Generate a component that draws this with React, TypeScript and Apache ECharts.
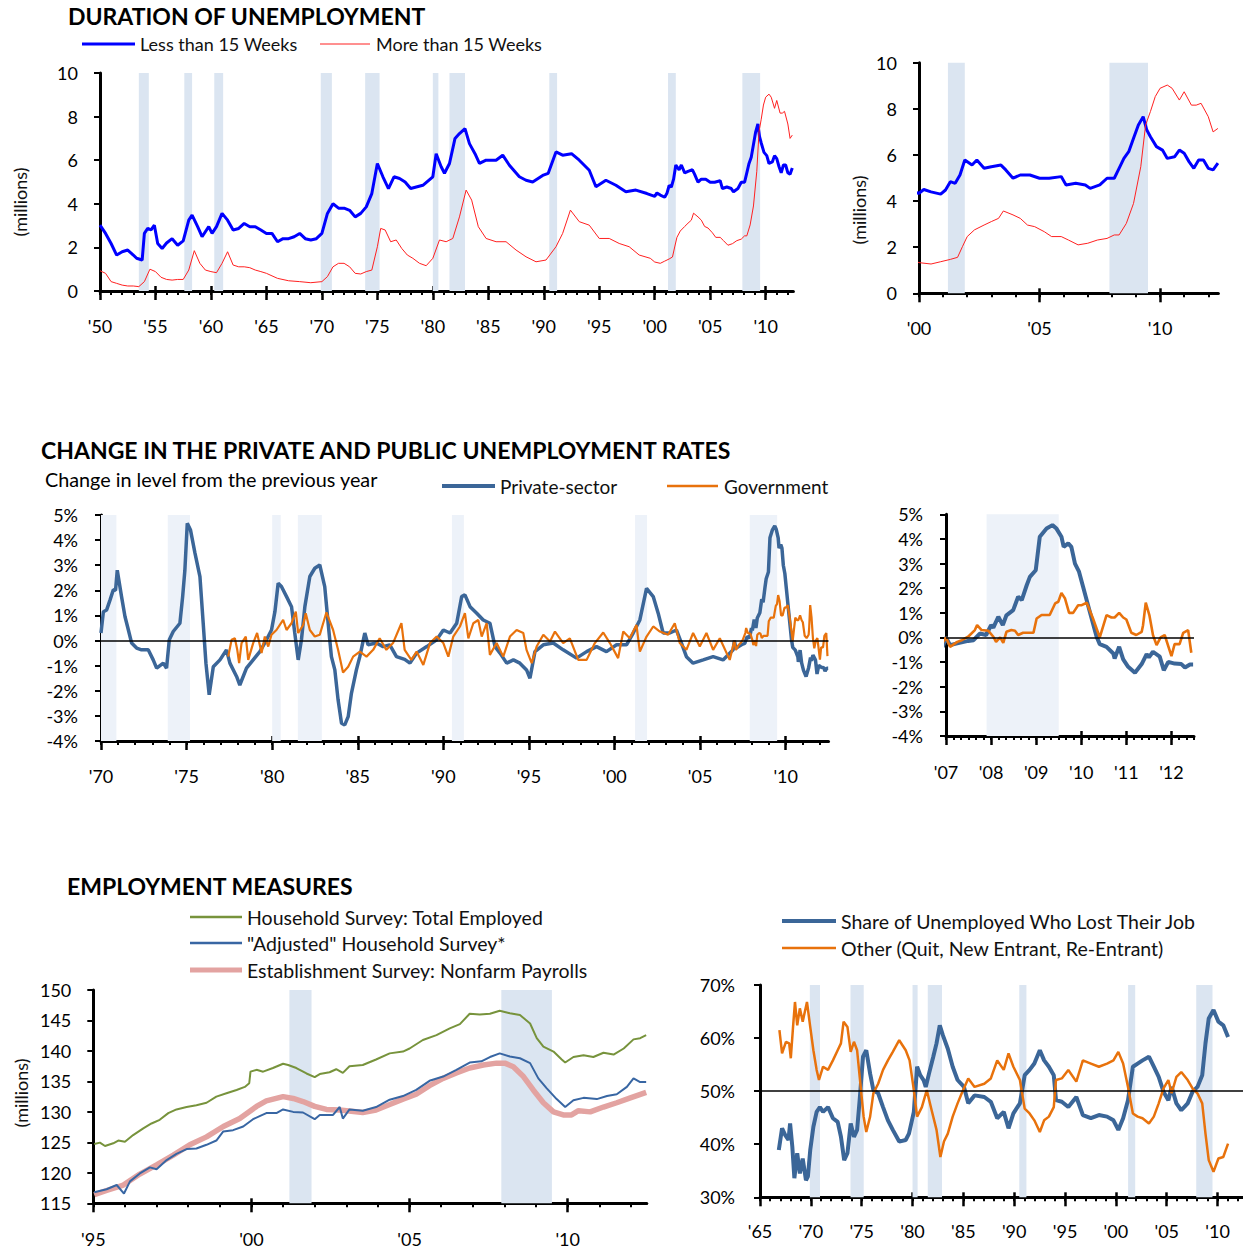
import React, { useEffect, useRef } from 'react';
import * as echarts from 'echarts';

const FONT = 'Lato, "Open Sans", sans-serif';

// NBER recessions (start, end) in decimal years
const recessions: [number, number][] = [
  [1953.5, 1954.4], [1957.6, 1958.3], [1960.3, 1961.1], [1969.9, 1970.9], [1973.9, 1975.2],
  [1980.0, 1980.5], [1981.5, 1982.9], [1990.5, 1991.2], [2001.2, 2001.9], [2007.9, 2009.5],
];

// ---- Duration of unemployment (millions) ----
const lessThan15Weeks: [number, number][] = [
  [1950.0, 3.02], [1950.5, 2.64], [1951.0, 2.18], [1951.5, 1.65], [1952.0, 1.8], [1952.5, 1.88], [1953.0, 1.65],
  [1953.3, 1.5], [1953.8, 1.42], [1954.0, 2.64], [1954.3, 2.87], [1954.6, 2.8], [1954.9, 3.02], [1955.2, 2.18],
  [1955.6, 1.95], [1956.0, 2.2], [1956.5, 2.4], [1957.0, 2.1], [1957.5, 2.3], [1958.0, 3.25], [1958.3, 3.48],
  [1958.8, 2.95], [1959.2, 2.49], [1959.8, 2.95], [1960.1, 2.64], [1960.5, 2.95], [1961.0, 3.56], [1961.5, 3.25],
  [1962.0, 2.8], [1962.5, 2.87], [1963.0, 3.1], [1963.5, 2.95], [1964.0, 2.95], [1964.5, 2.8], [1965.0, 2.64],
  [1965.5, 2.64], [1966.0, 2.26], [1966.5, 2.4], [1967.0, 2.4], [1967.5, 2.49], [1968.0, 2.64], [1968.5, 2.4],
  [1969.0, 2.34], [1969.5, 2.4], [1970.0, 2.64], [1970.5, 3.56], [1971.0, 4.0], [1971.5, 3.8], [1972.0, 3.8],
  [1972.5, 3.7], [1973.0, 3.4], [1973.5, 3.56], [1974.0, 3.86], [1974.5, 4.47], [1975.0, 5.85], [1975.5, 5.24],
  [1976.0, 4.7], [1976.5, 5.24], [1977.0, 5.16], [1977.5, 5.0], [1978.0, 4.7], [1979.1, 4.85], [1980.0, 5.24],
  [1980.3, 6.3], [1980.75, 5.7], [1981.05, 5.4], [1981.5, 5.85], [1982.0, 7.0], [1982.4, 7.22], [1982.9, 7.45],
  [1983.3, 6.76], [1983.8, 6.3], [1984.2, 5.85], [1984.8, 6.0], [1985.7, 6.0], [1986.3, 6.23], [1986.9, 5.77],
  [1987.8, 5.24], [1988.4, 5.08], [1989.0, 5.0], [1989.9, 5.3], [1990.4, 5.4], [1991.1, 6.38], [1991.7, 6.23],
  [1992.5, 6.3], [1993.2, 6.0], [1994.1, 5.54], [1994.7, 4.78], [1995.6, 5.08], [1996.5, 4.85], [1997.4, 4.55],
  [1998.3, 4.63], [1999.3, 4.47],
  [2000.0, 4.34], [2000.2, 4.5], [2000.5, 4.4], [2000.9, 4.3], [2001.1, 4.48], [2001.3, 4.84], [2001.5, 4.77],
  [2001.7, 5.13], [2001.9, 5.78], [2002.2, 5.56], [2002.4, 5.78], [2002.7, 5.42], [2003.0, 5.49], [2003.4, 5.56],
  [2003.6, 5.35], [2003.9, 4.99], [2004.2, 5.13], [2004.6, 5.13], [2005.0, 4.99], [2005.4, 4.99], [2005.9, 5.06],
  [2006.1, 4.7], [2006.5, 4.77], [2006.9, 4.7], [2007.1, 4.55], [2007.5, 4.7], [2007.8, 4.99], [2008.1, 4.99],
  [2008.3, 5.42], [2008.5, 5.85], [2008.7, 6.14], [2008.9, 6.72], [2009.1, 7.3], [2009.3, 7.66], [2009.45, 7.08],
  [2009.6, 6.79], [2009.85, 6.36], [2010.1, 6.21], [2010.3, 5.85], [2010.6, 5.92], [2010.8, 6.21], [2011.0, 6.07],
  [2011.2, 5.71], [2011.4, 5.42], [2011.6, 5.78], [2011.8, 5.78], [2012.0, 5.42], [2012.2, 5.35], [2012.4, 5.64],
];

const moreThan15Weeks: [number, number][] = [
  [1950.0, 0.93], [1950.5, 0.81], [1951.0, 0.43], [1951.5, 0.35], [1952.0, 0.27], [1952.5, 0.23], [1953.0, 0.23],
  [1953.5, 0.2], [1954.0, 0.43], [1954.5, 1.0], [1955.0, 0.89], [1955.5, 0.63], [1956.0, 0.53], [1956.5, 0.5],
  [1957.0, 0.53], [1957.5, 0.53], [1958.0, 0.96], [1958.5, 1.85], [1959.0, 1.27], [1959.5, 0.96], [1960.0, 0.89],
  [1960.5, 0.84], [1961.0, 1.27], [1961.5, 1.8], [1962.0, 1.19], [1962.5, 1.11], [1963.0, 1.11], [1963.5, 1.07],
  [1964.0, 0.96], [1964.5, 0.89], [1965.0, 0.81], [1966.0, 0.58], [1967.0, 0.47], [1968.0, 0.43], [1969.0, 0.38],
  [1970.0, 0.43], [1970.5, 0.66], [1971.0, 1.11], [1971.5, 1.27], [1972.0, 1.27], [1972.5, 1.11], [1973.0, 0.81],
  [1973.5, 0.78], [1974.0, 0.89], [1974.5, 0.96], [1975.0, 2.03], [1975.3, 2.87], [1975.7, 2.8], [1976.2, 2.26],
  [1976.7, 2.34], [1977.2, 1.95], [1977.7, 1.65], [1978.2, 1.5], [1978.8, 1.27], [1979.4, 1.16], [1980.0, 1.5],
  [1980.6, 2.34], [1981.2, 2.26], [1981.8, 2.41], [1982.4, 3.4], [1983.0, 4.63], [1983.5, 4.17], [1984.1, 2.95],
  [1984.8, 2.41], [1985.7, 2.26], [1986.6, 2.26], [1987.5, 1.88], [1988.4, 1.57], [1989.3, 1.34], [1990.2, 1.42],
  [1991.1, 2.03], [1991.7, 2.64], [1992.4, 3.71], [1993.2, 3.18], [1994.1, 3.02], [1995.0, 2.41], [1995.9, 2.41],
  [1996.8, 2.18], [1997.7, 2.03], [1998.6, 1.65], [1999.6, 1.5],
  [2000.0, 1.33], [2000.5, 1.27], [2000.9, 1.37], [2001.3, 1.47], [2001.6, 1.56], [2001.8, 2.02], [2002.0, 2.46],
  [2002.3, 2.75], [2002.7, 2.96], [2003.0, 3.11], [2003.3, 3.25], [2003.5, 3.57], [2003.9, 3.4], [2004.2, 3.25],
  [2004.5, 2.96], [2004.8, 2.89], [2005.2, 2.67], [2005.5, 2.46], [2005.9, 2.46], [2006.2, 2.31], [2006.6, 2.1],
  [2007.0, 2.17], [2007.4, 2.31], [2007.8, 2.38], [2008.1, 2.53], [2008.3, 2.53], [2008.6, 3.03], [2008.9, 3.9],
  [2009.2, 5.49], [2009.4, 7.3], [2009.6, 7.88], [2009.8, 8.53], [2010.0, 8.89], [2010.3, 9.03], [2010.5, 8.89],
  [2010.8, 8.38], [2011.0, 8.74], [2011.3, 8.16], [2011.5, 8.16], [2011.7, 8.24], [2012.0, 7.66], [2012.2, 7.0],
  [2012.4, 7.15],
];

// ---- Change in unemployment rates (percentage points, y/y) ----
const privateSector: [number, number][] = [
  [1970.0, 0.3], [1970.14, 1.15], [1970.33, 1.22], [1970.53, 1.62], [1970.72, 2.02], [1970.85, 2.0], [1970.95, 2.8],
  [1971.2, 1.75], [1971.4, 0.96], [1971.6, 0.42], [1971.79, -0.1], [1972.08, -0.3], [1972.37, -0.37], [1972.76, -0.37],
  [1973.05, -0.77], [1973.25, -1.1], [1973.64, -0.9], [1973.83, -1.1], [1973.99, 0.03], [1974.22, 0.36], [1974.61, 0.69],
  [1974.77, 1.75], [1974.9, 2.8], [1975.04, 4.67], [1975.23, 4.4], [1975.49, 3.48], [1975.78, 2.55], [1975.97, 0.69],
  [1976.13, -0.9], [1976.32, -2.16], [1976.56, -1.04], [1976.95, -0.77], [1977.33, -0.37], [1977.53, -0.9],
  [1977.92, -1.43], [1978.11, -1.77], [1978.5, -1.1], [1978.89, -0.77], [1979.28, -0.44], [1979.67, 0.03],
  [1979.96, 0.42], [1980.16, 1.15], [1980.35, 2.28], [1980.54, 2.15], [1980.84, 1.75], [1981.13, 1.35], [1981.32, 0.3],
  [1981.52, -0.77], [1981.71, 0.03], [1981.91, 1.35], [1982.2, 2.55], [1982.49, 2.88], [1982.78, 3.01], [1983.07, 2.15],
  [1983.27, 0.69], [1983.46, -0.64], [1983.66, -1.17], [1983.85, -2.36], [1984.05, -3.29], [1984.24, -3.36],
  [1984.44, -3.03], [1984.63, -2.1], [1984.92, -1.17], [1985.12, -0.64], [1985.41, 0.3], [1985.6, -0.17],
  [1986.09, -0.1], [1986.48, -0.24], [1986.87, -0.17], [1987.26, -0.64], [1987.74, -0.75], [1988.05, -0.9],
  [1988.44, -0.5], [1989.03, -0.24], [1989.61, 0.03], [1990.0, 0.42], [1990.39, 0.3], [1990.78, 0.69], [1991.07, 1.75],
  [1991.26, 1.82], [1991.56, 1.35], [1991.95, 1.09], [1992.33, 0.82], [1992.72, 0.69], [1993.02, -0.24], [1993.31, -0.5],
  [1993.7, -0.9], [1994.09, -0.77], [1994.47, -0.9], [1994.86, -1.17], [1995.06, -1.5], [1995.35, -0.44],
  [1995.84, -0.17], [1996.42, -0.1], [1997.0, -0.37], [1997.78, -0.7], [1998.37, -0.44], [1998.95, -0.24],
  [1999.53, -0.44], [2000.12, -0.17], [2000.7, -0.17], [2001.09, 0.3], [2001.48, 0.82], [2001.87, 2.08],
  [2002.26, 1.75], [2002.55, 1.09], [2002.84, 0.3], [2003.23, 0.3], [2003.62, 0.42], [2003.91, -0.1], [2004.2, -0.64],
  [2004.59, -0.9], [2005.18, -0.77], [2005.76, -0.64], [2006.34, -0.77], [2006.93, -0.37],
  [2007.0, 0.0], [2007.09, -0.31], [2007.25, -0.24], [2007.49, -0.14], [2007.61, -0.11], [2007.75, 0.16], [2007.89, 0.1],
  [2008.0, 0.5], [2008.05, 0.4], [2008.16, 0.84], [2008.26, 0.5], [2008.34, 0.9], [2008.49, 1.11], [2008.6, 1.65],
  [2008.68, 1.52], [2008.79, 2.12], [2008.86, 2.46], [2008.99, 2.73], [2009.08, 4.09], [2009.23, 4.42], [2009.36, 4.56],
  [2009.45, 4.42], [2009.56, 4.09], [2009.61, 3.68], [2009.71, 3.82], [2009.78, 3.68], [2009.86, 3.0], [2009.95, 2.67],
  [2010.04, 2.06], [2010.15, 1.31], [2010.26, 0.57], [2010.34, 0.03], [2010.41, -0.27], [2010.56, -0.38],
  [2010.71, -0.65], [2010.74, -0.85], [2010.84, -0.38], [2010.93, -0.89], [2011.04, -1.19], [2011.19, -1.43],
  [2011.34, -1.08], [2011.45, -0.68], [2011.5, -0.81], [2011.59, -0.58], [2011.74, -0.78], [2011.83, -1.33],
  [2011.93, -0.99], [2012.07, -1.06], [2012.22, -1.08], [2012.3, -1.22], [2012.41, -1.1], [2012.48, -1.1],
];

const government: [number, number][] = [
  [1977.43, -0.64], [1977.63, 0.03], [1977.82, 0.09], [1977.96, -0.37], [1978.07, -0.9], [1978.21, -0.1],
  [1978.46, 0.16], [1978.6, -0.77], [1978.89, -0.1], [1979.12, 0.3], [1979.38, -0.5], [1979.57, 0.16],
  [1979.77, -0.24], [1979.96, 0.23], [1980.25, 0.42], [1980.64, 0.82], [1980.84, 0.42], [1981.13, 0.69],
  [1981.38, 1.15], [1981.52, 0.3], [1981.81, 0.62], [1981.96, 1.09], [1982.2, 0.42], [1982.49, 0.16], [1982.78, 0.23],
  [1982.98, 0.69], [1983.17, 1.12], [1983.37, 0.76], [1983.56, 0.42], [1983.85, -0.37], [1984.14, -1.27],
  [1984.44, -1.04], [1984.73, -0.64], [1985.12, -0.44], [1985.51, -0.64], [1985.9, -0.37], [1986.28, 0.09],
  [1986.67, -0.37], [1987.06, -0.1], [1987.55, 0.69], [1987.74, -0.37], [1988.13, -0.77], [1988.44, -0.44],
  [1988.83, -0.97], [1989.22, -0.1], [1989.61, 0.16], [1990.0, -0.1], [1990.29, -0.64], [1990.58, 0.16],
  [1990.97, 0.56], [1991.26, 1.09], [1991.46, 0.09], [1991.75, 0.69], [1992.04, 0.82], [1992.24, 0.16],
  [1992.53, 0.69], [1992.72, -0.57], [1993.11, -0.1], [1993.5, -0.64], [1993.89, 0.16], [1994.28, 0.42],
  [1994.67, 0.3], [1994.86, -0.37], [1995.16, -0.9], [1995.45, -0.24], [1995.84, 0.23], [1996.23, -0.04],
  [1996.52, 0.36], [1997.0, -0.1], [1997.39, 0.09], [1997.88, -0.77], [1998.37, -0.77], [1998.85, -0.1],
  [1999.34, 0.32], [1999.73, -0.1], [2000.21, -0.7], [2000.51, 0.36], [2000.89, 0.09], [2001.28, 0.62],
  [2001.48, -0.44], [2001.87, 0.16], [2002.26, 0.56], [2002.65, 0.36], [2003.13, 0.23], [2003.52, 0.69],
  [2003.81, -0.1], [2004.2, -0.37], [2004.59, 0.3], [2004.98, -0.24], [2005.37, 0.3], [2005.76, -0.37],
  [2006.15, 0.09], [2006.73, -0.77],
  [2007.0, 0.0], [2007.09, -0.38], [2007.25, -0.18], [2007.35, -0.11], [2007.49, 0.03], [2007.64, 0.3],
  [2007.69, 0.5], [2007.79, 0.3], [2007.94, 0.27], [2008.05, 0.03], [2008.11, -0.18], [2008.2, 0.0], [2008.27, -0.22],
  [2008.34, 0.23], [2008.45, 0.3], [2008.53, 0.27], [2008.6, 0.1], [2008.71, 0.19], [2008.94, 0.19], [2009.01, 0.77],
  [2009.12, 0.91], [2009.3, 0.91], [2009.42, 1.38], [2009.49, 1.45], [2009.56, 1.81], [2009.64, 1.58], [2009.73, 1.0],
  [2009.82, 1.0], [2009.93, 1.31], [2010.01, 1.31], [2010.12, 1.41], [2010.26, 0.77], [2010.41, 0.0], [2010.56, 0.91],
  [2010.67, 0.81], [2010.74, 0.81], [2010.84, 1.0], [2010.93, 0.81], [2011.0, 0.73], [2011.11, 0.19], [2011.22, 0.1],
  [2011.34, 0.23], [2011.37, 0.5], [2011.43, 1.41], [2011.51, 0.91], [2011.59, 0.1], [2011.67, -0.31], [2011.76, 0.0],
  [2011.85, 0.1], [2012.0, -0.76], [2012.07, -0.27], [2012.18, -0.27], [2012.26, 0.19], [2012.37, 0.3],
  [2012.44, -0.62],
];

// ---- Employment measures (millions) ----
const householdTotal: [number, number][] = [
  [1995.03, 124.74], [1995.21, 124.96], [1995.37, 124.4], [1995.63, 124.85], [1995.79, 125.3], [1996.0, 125.1],
  [1996.26, 126.2], [1996.58, 127.3], [1996.84, 128.1], [1997.1, 128.7], [1997.37, 129.8], [1997.63, 130.4],
  [1997.95, 130.8], [1998.26, 131.1], [1998.58, 131.5], [1998.89, 132.5], [1999.21, 133.05], [1999.53, 133.6],
  [1999.79, 134.1], [1999.93, 134.7], [1999.97, 136.6], [2000.16, 136.9], [2000.37, 136.6], [2000.68, 137.2],
  [2001.0, 137.9], [2001.16, 137.7], [2001.42, 137.2], [2001.74, 136.3], [2002.0, 135.7], [2002.16, 136.2],
  [2002.47, 136.5], [2002.68, 137.0], [2002.89, 136.4], [2003.1, 137.5], [2003.52, 137.7], [2003.94, 138.6],
  [2004.37, 139.6], [2004.79, 139.9], [2005.0, 140.4], [2005.42, 141.8], [2005.85, 142.6], [2006.27, 143.7],
  [2006.59, 144.4], [2006.9, 146.1], [2007.22, 146.0], [2007.54, 146.1], [2007.85, 146.6], [2008.17, 146.2],
  [2008.49, 145.9], [2008.81, 144.5], [2009.02, 142.1], [2009.23, 140.7], [2009.55, 139.9], [2009.81, 138.6],
  [2009.92, 138.1], [2010.18, 139.0], [2010.5, 139.3], [2010.81, 139.0], [2011.13, 139.7], [2011.45, 139.4],
  [2011.77, 140.4], [2012.08, 141.9], [2012.29, 142.1], [2012.48, 142.6],
];

const householdAdjusted: [number, number][] = [
  [1995.03, 116.8], [1995.42, 117.3], [1995.74, 118.0], [1995.97, 116.6], [1996.16, 118.6], [1996.47, 119.9],
  [1996.79, 120.9], [1997.0, 120.6], [1997.32, 122.1], [1997.63, 123.1], [1997.95, 123.9], [1998.26, 124.0],
  [1998.58, 124.6], [1998.89, 125.3], [1999.11, 126.8], [1999.42, 127.0], [1999.74, 127.6], [2000.05, 128.8],
  [2000.26, 129.3], [2000.47, 129.8], [2000.79, 129.8], [2001.0, 130.4], [2001.32, 130.0], [2001.63, 129.9],
  [2002.0, 128.8], [2002.16, 129.5], [2002.58, 129.5], [2002.79, 130.8], [2002.89, 128.9], [2003.1, 130.4],
  [2003.52, 130.2], [2003.94, 130.8], [2004.37, 132.0], [2004.79, 132.6], [2005.21, 133.6], [2005.63, 135.1],
  [2006.06, 135.8], [2006.48, 136.9], [2006.9, 138.1], [2007.27, 138.3], [2007.54, 139.0], [2007.85, 139.6],
  [2008.17, 139.1], [2008.49, 138.8], [2008.81, 138.0], [2009.07, 135.5], [2009.33, 133.9], [2009.65, 132.1],
  [2009.92, 130.8], [2010.18, 131.9], [2010.5, 132.3], [2010.92, 132.1], [2011.24, 132.6], [2011.55, 132.9],
  [2011.87, 134.1], [2012.08, 135.5], [2012.29, 134.9], [2012.48, 134.9],
];

const establishment: [number, number][] = [
  [1995.03, 116.4], [1995.42, 117.1], [1995.95, 118.0], [1996.47, 119.8], [1997.0, 121.3], [1997.53, 122.9],
  [1998.05, 124.6], [1998.58, 125.9], [1999.11, 127.6], [1999.63, 128.9], [2000.16, 130.9], [2000.47, 131.8],
  [2001.0, 132.5], [2001.32, 132.2], [2001.63, 131.7], [2002.0, 130.9], [2002.37, 130.4], [2002.79, 130.3],
  [2003.52, 129.9], [2003.94, 130.3], [2004.37, 131.2], [2004.79, 132.1], [2005.21, 132.9], [2005.63, 134.3],
  [2006.06, 135.5], [2006.48, 136.4], [2006.9, 137.2], [2007.33, 137.7], [2007.75, 138.0], [2008.01, 138.0],
  [2008.28, 137.4], [2008.6, 135.8], [2008.91, 133.6], [2009.23, 131.5], [2009.55, 130.0], [2009.86, 129.5],
  [2010.12, 129.5], [2010.34, 130.2], [2010.71, 130.0], [2011.13, 130.8], [2011.55, 131.5], [2011.98, 132.3],
  [2012.48, 133.2],
];

// ---- Reasons for unemployment (share, %) ----
const lostJob: [number, number][] = [
  [1966.85, 38.9], [1967.17, 43.0], [1967.48, 41.7], [1967.8, 40.8], [1967.96, 43.9], [1968.18, 39.5], [1968.38, 33.6],
  [1968.66, 38.3], [1968.92, 34.5], [1969.2, 37.3], [1969.52, 33.2], [1969.71, 33.9], [1969.94, 38.9], [1970.25, 43.3],
  [1970.57, 46.1], [1970.89, 47.0], [1971.2, 46.1], [1971.69, 47.0], [1972.17, 44.9], [1972.64, 44.2], [1972.96, 41.4],
  [1973.28, 37.0], [1973.6, 38.3], [1973.92, 43.9], [1974.24, 41.4], [1974.55, 42.7], [1974.8, 48.3], [1975.13, 56.5],
  [1975.45, 57.7], [1975.83, 53.3], [1976.15, 50.2], [1976.62, 49.6], [1977.1, 47.0], [1977.58, 44.5], [1978.06, 42.7],
  [1978.69, 40.5], [1979.33, 40.8], [1979.65, 42.0], [1980.13, 46.1], [1980.45, 54.6], [1980.76, 53.0], [1981.08, 52.1],
  [1981.3, 50.8], [1981.62, 53.3], [1982.04, 56.5], [1982.36, 59.0], [1982.68, 62.4], [1982.99, 60.5], [1983.47, 58.0],
  [1983.95, 54.6], [1984.43, 52.1], [1985.06, 50.8], [1985.48, 47.7], [1986.1, 49.2], [1987.06, 48.9], [1987.7, 48.0],
  [1988.33, 44.9], [1988.97, 46.1], [1989.44, 43.0], [1989.92, 45.8], [1990.56, 47.7], [1991.03, 53.0], [1991.51, 54.0],
  [1991.98, 55.2], [1992.52, 57.7], [1992.94, 55.8], [1993.41, 54.6], [1993.89, 53.0], [1994.11, 48.3], [1994.68, 48.0],
  [1995.32, 47.0], [1996.11, 48.9], [1996.75, 45.5], [1997.54, 44.9], [1998.33, 45.5], [1999.13, 45.2], [1999.76, 44.5],
  [2000.24, 42.7], [2000.71, 44.9], [2001.19, 48.3], [2001.67, 54.6], [2002.14, 55.2], [2002.62, 55.8], [2003.25, 56.5],
  [2003.73, 54.6], [2004.21, 52.7], [2004.68, 49.9], [2005.16, 48.3], [2005.48, 50.8], [2005.95, 47.7], [2006.43, 46.4],
  [2007.06, 47.7], [2007.54, 49.9], [2008.02, 50.8], [2008.49, 53.0], [2008.81, 59.0], [2009.13, 63.7], [2009.6, 65.3],
  [2010.08, 63.1], [2010.56, 62.4], [2011.03, 60.2],
];

const otherReasons: [number, number][] = [
  [1966.91, 61.5], [1967.17, 57.1], [1967.55, 59.3], [1967.87, 59.0], [1968.03, 56.2], [1968.25, 62.1], [1968.44, 66.8],
  [1968.66, 62.4], [1968.92, 65.6], [1969.2, 63.1], [1969.62, 66.8], [1969.94, 62.1], [1970.25, 57.7], [1970.57, 54.0],
  [1970.8, 52.1], [1971.2, 54.6], [1971.69, 54.0], [1972.17, 55.8], [1972.64, 57.7], [1972.96, 59.0], [1973.22, 63.1],
  [1973.6, 62.1], [1973.92, 57.4], [1974.24, 59.3], [1974.55, 57.7], [1974.87, 51.4], [1975.19, 45.2], [1975.45, 42.3],
  [1975.83, 45.2], [1976.15, 49.6], [1976.62, 51.4], [1977.1, 54.0], [1977.58, 55.8], [1978.06, 57.4], [1978.69, 59.6],
  [1979.33, 57.7], [1979.71, 55.8], [1980.13, 50.2], [1980.45, 45.2], [1980.92, 47.0], [1981.4, 50.2], [1981.88, 46.4],
  [1982.36, 42.7], [1982.74, 37.6], [1983.09, 40.5], [1983.47, 42.0], [1983.95, 45.2], [1984.43, 47.7], [1984.84, 49.6],
  [1985.48, 52.4], [1986.1, 50.8], [1987.06, 51.4], [1987.7, 52.4], [1988.33, 55.8], [1988.97, 54.0], [1989.44, 57.1],
  [1989.92, 54.6], [1990.56, 52.1], [1991.03, 46.7], [1991.51, 45.8], [1991.98, 44.5], [1992.52, 42.3], [1992.94, 44.5],
  [1993.41, 45.2], [1993.89, 47.0], [1994.11, 52.1], [1994.68, 52.4], [1995.32, 54.0], [1996.11, 51.8], [1996.75, 55.8],
  [1997.54, 55.2], [1998.33, 54.6], [1999.13, 55.2], [1999.76, 55.8], [2000.24, 57.4], [2000.71, 55.2], [2001.19, 50.8],
  [2001.67, 45.8], [2002.14, 45.2], [2002.62, 44.9], [2003.25, 43.9], [2003.73, 45.2], [2004.21, 47.7], [2004.68, 50.5],
  [2005.16, 52.1], [2005.48, 49.6], [2005.95, 52.7], [2006.43, 53.6], [2007.06, 52.1], [2007.54, 50.5], [2008.02, 49.6],
  [2008.49, 47.7], [2008.81, 42.0], [2009.13, 37.0], [2009.6, 34.8], [2010.08, 37.3], [2010.56, 37.6], [2011.03, 40.1],
];

// ---- Axis tick values ----
const range = (a: number, b: number, step: number) => {
  const r: number[] = [];
  for (let i = 0; a + i * step <= b + 1e-9; i++) r.push(+(a + i * step).toFixed(4));
  return r;
};
const durLongMajor = range(1950, 2010, 5);
const durLongMinor = range(1950, 2012, 1);
const durShortMajor = [2000, 2005, 2010];
const durShortMinor = range(2000, 2012, 1);
const rateLongMajor = range(1970, 2010, 5);
const rateLongMinor = range(1970, 2012, 1);
const rateShortMajor = range(2007, 2012, 1);
const rateShortMinor = range(2007, 2012.5, 1 / 6);
const empMajor = [1995, 2000, 2005, 2010];
const empMinor = range(1995, 2012, 1);
const shareMajor = range(1965, 2010, 5);
const shareMinor = range(1965, 2012, 1);

const yearLabel = (v: number) => "'" + String(Math.round(v) % 100).padStart(2, '0');

const TICK_SIZE = 18;
const TXT = { fontFamily: FONT, color: '#000' };

function xAxesFor(gi: number, min: number, max: number, major: number[], minor: number[], margin: number) {
  const base: any = { type: 'value', gridIndex: gi, min, max, position: 'bottom', splitLine: { show: false } };
  return [
    {
      ...base,
      axisLine: { show: true, onZero: false, lineStyle: { color: '#000', width: 3 } },
      axisTick: { show: true, length: 4, lineStyle: { color: '#000', width: 2 }, customValues: minor },
      axisLabel: { show: true, margin, customValues: major, formatter: yearLabel, fontSize: TICK_SIZE, ...TXT },
    },
    {
      ...base,
      axisLine: { show: false, onZero: false },
      axisTick: { show: true, length: 9, lineStyle: { color: '#000', width: 2.5 }, customValues: major },
      axisLabel: { show: false },
    },
    {
      ...base,
      axisLine: { show: false, onZero: false },
      axisTick: { show: true, inside: true, length: 5, lineStyle: { color: '#000', width: 2.5 }, customValues: major },
      axisLabel: { show: false },
    },
  ];
}

function yAxisFor(gi: number, min: number, max: number, interval: number, suffix: string, margin: number) {
  return {
    type: 'value', gridIndex: gi, min, max, interval, position: 'left',
    splitLine: { show: false },
    axisLine: { show: true, onZero: false, lineStyle: { color: '#000', width: 3 } },
    axisTick: { show: true, length: 6, lineStyle: { color: '#000', width: 2 } },
    axisLabel: { margin, fontSize: TICK_SIZE, ...TXT, formatter: (v: number) => v + suffix },
  };
}

function recessionArea(min: number, max: number, color: string) {
  return {
    silent: true,
    itemStyle: { color },
    label: { show: false },
    data: recessions
      .filter(([a, b]) => b > min && a < max)
      .map(([a, b]) => [{ xAxis: Math.max(a, min) }, { xAxis: Math.min(b, max) }]),
  };
}

function refLine(y: number) {
  return {
    silent: true,
    symbol: ['none', 'none'],
    label: { show: false },
    lineStyle: { color: '#000', width: 1.5, type: 'solid' },
    data: [{ yAxis: y }],
  };
}

function line(name: string, data: [number, number][], gi: number, color: string, width: number, extra: any = {}) {
  return {
    type: 'line', name, data, xAxisIndex: gi * 3, yAxisIndex: gi,
    showSymbol: false, symbol: 'none', silent: true, clip: true,
    lineStyle: { color, width }, itemStyle: { color }, ...extra,
  };
}

const C = {
  dBlue: '#0000ff', dRed: '#ff2020', steel: '#3b6698', orange: '#e8720c',
  green: '#77933c', adjBlue: '#3866a3', pink: '#e3a3a1',
  recA: '#dbe5f1', recB: '#edf2f9',
};

function legendItem(x1: number, x2: number, y: number, color: string, width: number, text: string, tx: number, size = 18) {
  return [
    { type: 'line', shape: { x1, y1: y, x2, y2: y }, style: { stroke: color, lineWidth: width } },
    { type: 'text', x: tx, y, style: { text, fontSize: size, fontFamily: FONT, fill: '#111', align: 'left', verticalAlign: 'middle' } },
  ];
}

function titleText(text: string, x: number, y: number, size: number, bold = true) {
  return {
    type: 'text', x, y,
    style: { text, fontSize: size, fontFamily: FONT, fontWeight: bold ? 'bold' : 'normal', fill: '#000', align: 'left', verticalAlign: 'middle' },
  };
}

function vText(text: string, x: number, y: number) {
  return {
    type: 'text', x, y, rotation: Math.PI / 2,
    style: { text, fontSize: 18, fontFamily: FONT, fill: '#111', align: 'center', verticalAlign: 'middle' },
  };
}

export default function App() {
  const ref = useRef<HTMLDivElement>(null);
  useEffect(() => {
    if (!ref.current) return;
    const chart = echarts.init(ref.current, undefined, { renderer: 'svg' });
    const option: any = {
      animation: false,
      backgroundColor: '#ffffff',
      grid: [
        { left: 100, top: 73, width: 693.4, height: 218 },
        { left: 919, top: 62.7, width: 299.4, height: 230.6 },
        { left: 101, top: 515, width: 727.5, height: 226 },
        { left: 946, top: 514.3, width: 248, height: 221.7 },
        { left: 93.3, top: 990, width: 553.5, height: 213.3 },
        { left: 760, top: 985, width: 497.3, height: 212.3 },
      ],
      xAxis: [
        ...xAxesFor(0, 1950, 2012.5, durLongMajor, durLongMinor, 26),
        ...xAxesFor(1, 2000, 2012.42, durShortMajor, durShortMinor, 26),
        ...xAxesFor(2, 1970, 2012.5, rateLongMajor, rateLongMinor, 26),
        ...xAxesFor(3, 2007, 2012.5, rateShortMajor, rateShortMinor, 27),
        ...xAxesFor(4, 1995, 2012.5, empMajor, empMinor, 27),
        ...xAxesFor(5, 1965, 2012.5, shareMajor, shareMinor, 25),
      ],
      yAxis: [
        yAxisFor(0, 0, 10, 2, '', 22),
        yAxisFor(1, 0, 10, 2, '', 22),
        yAxisFor(2, -4, 5, 1, '%', 23),
        yAxisFor(3, -4, 5, 1, '%', 23),
        yAxisFor(4, 115, 150, 5, '', 22),
        yAxisFor(5, 30, 70, 10, '%', 25),
      ],
      series: [
        line('Less than 15 Weeks', lessThan15Weeks, 0, C.dBlue, 3, { markArea: recessionArea(1950, 2012.5, C.recA) }),
        line('More than 15 Weeks', moreThan15Weeks, 0, C.dRed, 1),
        line('Less than 15 Weeks', lessThan15Weeks, 1, C.dBlue, 3, { markArea: recessionArea(2000, 2012.42, C.recA) }),
        line('More than 15 Weeks', moreThan15Weeks, 1, C.dRed, 1),
        line('Private-sector', privateSector, 2, C.steel, 3.5, { markArea: recessionArea(1970, 2012.5, C.recB), markLine: refLine(0) }),
        line('Government', government, 2, C.orange, 2.2),
        line('Private-sector', privateSector, 3, C.steel, 4, { markArea: recessionArea(2007, 2012.5, C.recB), markLine: refLine(0) }),
        line('Government', government, 3, C.orange, 2.6),
        line('Establishment Survey: Nonfarm Payrolls', establishment, 4, C.pink, 5.5, { markArea: recessionArea(1995, 2012.5, C.recA) }),
        line('"Adjusted" Household Survey*', householdAdjusted, 4, C.adjBlue, 2),
        line('Household Survey: Total Employed', householdTotal, 4, C.green, 2),
        line('Share of Unemployed Who Lost Their Job', lostJob, 5, C.steel, 4, { markArea: recessionArea(1965, 2012.5, C.recA), markLine: refLine(50) }),
        line('Other (Quit, New Entrant, Re-Entrant)', otherReasons, 5, C.orange, 2.5),
      ],
      graphic: [
        titleText('DURATION OF UNEMPLOYMENT', 68, 16, 23),
        ...legendItem(82, 135, 44, C.dBlue, 3, 'Less than 15 Weeks', 140),
        ...legendItem(320, 370, 44, C.dRed, 1, 'More than 15 Weeks', 376),
        vText('(millions)', 20, 202),
        vText('(millions)', 859, 210),
        titleText('CHANGE IN THE PRIVATE AND PUBLIC UNEMPLOYMENT RATES', 41, 450, 23),
        titleText('Change in level from the previous year', 45, 479, 19.8, false),
        ...legendItem(442, 495, 486, C.steel, 4, 'Private-sector', 500, 19),
        ...legendItem(667, 718, 486, C.orange, 2.5, 'Government', 724, 19),
        titleText('EMPLOYMENT MEASURES', 67, 886, 23),
        ...legendItem(190, 242, 917, C.green, 2.5, 'Household Survey: Total Employed', 247, 19.5),
        ...legendItem(190, 242, 943, C.adjBlue, 2.5, '"Adjusted" Household Survey*', 247, 19.5),
        ...legendItem(190, 242, 970, C.pink, 5, 'Establishment Survey: Nonfarm Payrolls', 247, 19.5),
        vText('(millions)', 21, 1093),
        ...legendItem(782, 836, 921, C.steel, 4, 'Share of Unemployed Who Lost Their Job', 841, 19.5),
        ...legendItem(782, 836, 948, C.orange, 2.5, 'Other (Quit, New Entrant, Re-Entrant)', 841, 19.5),
      ],
    };
    chart.setOption(option);
    return () => chart.dispose();
  }, []);
  return (
    <div
      ref={ref}
      style={{ position: 'absolute', left: 0, top: 0, width: 1243, height: 1250, background: '#fff' }}
    />
  );
}
